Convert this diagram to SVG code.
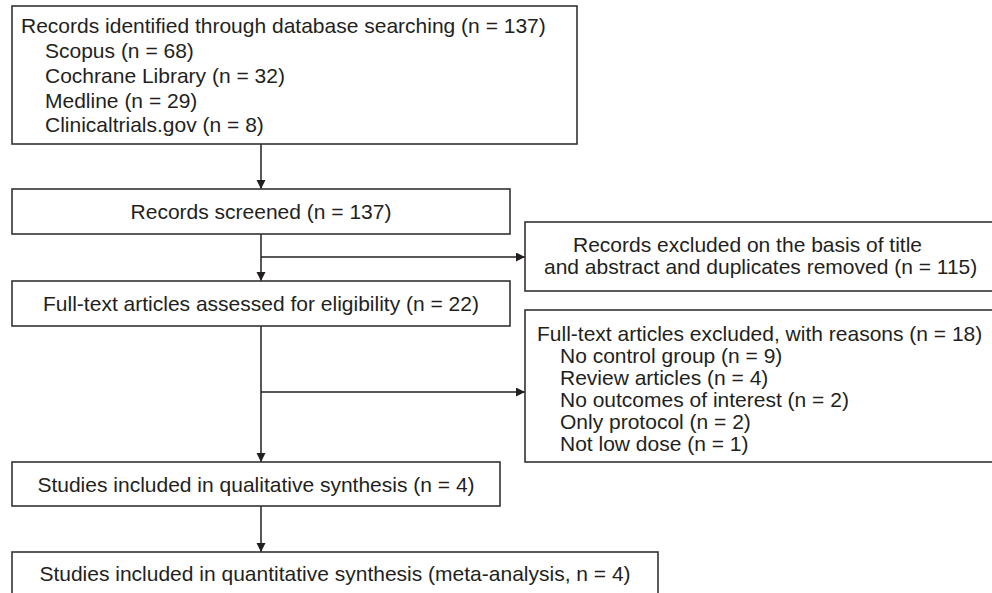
<svg xmlns="http://www.w3.org/2000/svg" width="992" height="593" viewBox="0 0 992 593">
<style>
.box{fill:#fff;stroke:#333;stroke-width:1.6}
.t{font-family:"Liberation Sans",Arial,sans-serif;font-size:21px;fill:#231f20}
.c{text-anchor:middle}
.ln{stroke:#231f20;stroke-width:1.5;fill:none}
</style>
<defs>
<marker id="ah" markerWidth="10" markerHeight="10" refX="9" refY="4.5" orient="auto" markerUnits="userSpaceOnUse">
<path d="M0,0 L9,4.5 L0,9 Z" fill="#231f20"/>
</marker>
</defs>
<rect width="992" height="593" fill="#fff"/>
<g id="connectors">
<line class="ln" x1="261" y1="144" x2="261" y2="189" marker-end="url(#ah)"/>
<line class="ln" x1="261" y1="234" x2="261" y2="281" marker-end="url(#ah)"/>
<line class="ln" x1="261" y1="257" x2="525" y2="257" marker-end="url(#ah)"/>
<line class="ln" x1="261" y1="326" x2="261" y2="462" marker-end="url(#ah)"/>
<line class="ln" x1="261" y1="392" x2="525" y2="392" marker-end="url(#ah)"/>
<line class="ln" x1="261" y1="506" x2="261" y2="552" marker-end="url(#ah)"/>
</g>
<g id="identified">
<rect class="box" x="12" y="6" width="565" height="138"/>
<text class="t" x="21" y="33">Records identified through database searching (n = 137)</text>
<text class="t" x="45" y="58">Scopus (n = 68)</text>
<text class="t" x="45" y="83">Cochrane Library (n = 32)</text>
<text class="t" x="45" y="108">Medline (n = 29)</text>
<text class="t" x="45" y="132">Clinicaltrials.gov (n = 8)</text>
</g>
<g id="screened">
<rect class="box" x="12" y="189" width="498" height="45"/>
<text class="t c" x="261" y="219">Records screened (n = 137)</text>
</g>
<g id="excluded1">
<rect class="box" x="525" y="222" width="470" height="69"/>
<text class="t" x="573" y="252">Records excluded on the basis of title</text>
<text class="t" x="544" y="274">and abstract and duplicates removed (n = 115)</text>
</g>
<g id="fulltext">
<rect class="box" x="12" y="281" width="498" height="45"/>
<text class="t c" x="261" y="311">Full-text articles assessed for eligibility (n = 22)</text>
</g>
<g id="excluded2">
<rect class="box" x="525" y="310" width="470" height="152"/>
<text class="t" x="537" y="341">Full-text articles excluded, with reasons (n = 18)</text>
<text class="t" x="560" y="363">No control group (n = 9)</text>
<text class="t" x="560" y="385">Review articles (n = 4)</text>
<text class="t" x="560" y="407">No outcomes of interest (n = 2)</text>
<text class="t" x="560" y="429">Only protocol (n = 2)</text>
<text class="t" x="560" y="451">Not low dose (n = 1)</text>
</g>
<g id="qualitative">
<rect class="box" x="12" y="462" width="488" height="44"/>
<text class="t c" x="256" y="492">Studies included in qualitative synthesis (n = 4)</text>
</g>
<g id="quantitative">
<rect class="box" x="12" y="552" width="646" height="48"/>
<text class="t c" x="335" y="581">Studies included in quantitative synthesis (meta-analysis, n = 4)</text>
</g>
</svg>
